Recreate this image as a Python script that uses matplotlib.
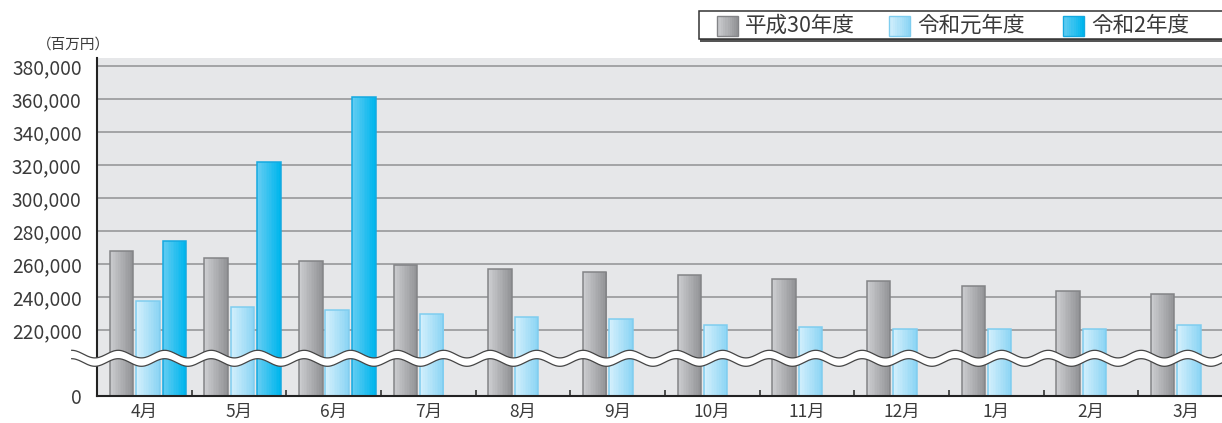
import numpy as np
import matplotlib
matplotlib.use("Agg")
import matplotlib.pyplot as plt
from matplotlib.patches import Rectangle
from matplotlib.transforms import Affine2D
from matplotlib.colors import to_rgb

plt.rcParams['font.family'] = ['Noto Sans CJK JP', 'DejaVu Sans']

# ---- data (百万円) ----
months = ['4月', '5月', '6月', '7月', '8月', '9月', '10月', '11月', '12月', '1月', '2月', '3月']
h30 = [267900, 263800, 261800, 259400, 257000, 255200, 253100, 251100, 249700, 246900, 243400, 241600]
r1 = [237600, 233900, 232100, 229700, 227900, 226500, 223000, 221600, 220400, 220400, 220400, 222800]
r2 = [274000, 321800, 361500]
series_names = ['平成30年度', '令和元年度', '令和2年度']
yticks = [0, 220000, 240000, 260000, 280000, 300000, 320000, 340000, 360000, 380000]

# gradient (left, right) and edge colours
styles = [
    ('#cbcccf', '#939497', '#838487'),
    ('#d2effc', '#8dd5f4', '#7fcdef'),
    ('#62ccf2', '#00b6ed', '#14a9e0'),
]
TXT = '#3a3a3a'

W, H = 1222, 423


# broken axis: 0..200000 squeezed to a tenth, above that linear
def fwd(v):
    v = np.asarray(v, dtype=float)
    return np.where(v <= 200000, v * 0.1, v - 180000)


def inv(d):
    d = np.asarray(d, dtype=float)
    return np.where(d <= 20000, d * 10, d + 180000)


def blend(c1, c2, t):
    a, b = np.array(to_rgb(c1)), np.array(to_rgb(c2))
    return a + (b - a) * t


def gradient_bars(ax, xs, vals, width, style, n=14):
    left, right, edge = style
    xs = np.asarray(xs, dtype=float)
    sw = width / n
    for k in range(n):
        ax.bar(xs - width / 2 + (k + 0.5) * sw, vals, width=sw * 1.08,
               color=blend(left, right, k / (n - 1)), linewidth=0, zorder=2)
    ax.bar(xs, vals, width=width, fill=False, edgecolor=edge, linewidth=1.1, zorder=2.2)


fig = plt.figure(figsize=(W / 100, H / 100), dpi=100)
ax = fig.add_axes([97 / W, 27 / H, 1 - 97 / W, 338 / H])
ax.set_facecolor('#e6e7e9')
ax.set_yscale('function', functions=(fwd, inv))

x = np.arange(len(months))
cat = 94.65
offsets = [-22.8 / cat, 3.5 / cat, 30.2 / cat]
bw = 23.4 / cat

gradient_bars(ax, x + offsets[0], h30, bw, styles[0])
gradient_bars(ax, x + offsets[1], r1, bw, styles[1])
gradient_bars(ax, x[:len(r2)] + offsets[2], r2, bw, styles[2])

ax.set_xlim(-0.5, -0.5 + 1125 / cat)
ax.set_ylim(0, 385000)

ax.set_yticks(yticks)
ax.set_yticklabels([f'{v:,}' for v in yticks], fontsize=13.8, color=TXT)
ax.tick_params(axis='y', length=0, pad=11)
ax.yaxis.grid(True, color='#a3a4a6', linewidth=1.4, zorder=1)
ax.set_axisbelow(True)

ax.set_xticks(x)
ax.set_xticklabels(months, fontsize=12.5, color=TXT)
ax.tick_params(axis='x', which='major', length=0, pad=5)
ax.set_xticks(np.arange(0.5, len(months) - 0.5), minor=True)
ax.tick_params(axis='x', which='minor', direction='in', length=4, width=1.2, color='#333333')

for s in ['top', 'right']:
    ax.spines[s].set_visible(False)
ax.spines['left'].set_linewidth(1.5)
ax.spines['bottom'].set_linewidth(1.5)
ax.spines['left'].set_color('#222222')
ax.spines['bottom'].set_color('#222222')

# pixel transform (origin bottom-left of the figure)
px = Affine2D().scale(1 / W, 1 / H) + fig.transFigure

# wavy break band
wx = np.linspace(71.7, W, 800)
yc = H - 358.3
amp, half = 3.8, 4.2
wave = amp * np.cos(2 * np.pi * (wx - 71.7) / 46.5)
top = yc + half + wave
bot = yc - half + wave
poly = np.column_stack([np.r_[wx, wx[::-1]], np.r_[top, bot[::-1]]])
fig.patches.append(plt.Polygon(poly, closed=True, facecolor='white', edgecolor='none',
                               transform=px, zorder=5))
fig.lines.append(plt.Line2D(wx, top, color='#444444', linewidth=0.9, transform=px, zorder=6))
fig.lines.append(plt.Line2D(wx, bot, color='#444444', linewidth=0.9, transform=px, zorder=6))

# unit label
fig.text(37 / W, 1 - 45 / H, '（百万円）', fontsize=10.5, color=TXT, ha='left', va='center')

# legend drawn by hand: box with shadow reaching past the right edge
lx0, ly_top, ly_bot = 699, 11, 39
fig.patches.append(Rectangle((lx0 + 1, H - ly_bot - 2.5), W, ly_bot - ly_top, transform=px,
                             facecolor='#555555', edgecolor='none', zorder=7))
fig.patches.append(Rectangle((lx0, H - ly_bot), W, ly_bot - ly_top, transform=px,
                             facecolor='white', edgecolor='#333333', linewidth=1.1, zorder=8))
patch_x = [717, 889, 1063]
for px0, name, st in zip(patch_x, series_names, styles):
    n = 10
    for k in range(n):
        fig.patches.append(Rectangle((px0 + k * 21 / n, H - 36), 21 / n + 0.3, 20, transform=px,
                                     facecolor=blend(st[0], st[1], k / (n - 1)),
                                     edgecolor='none', zorder=9))
    fig.patches.append(Rectangle((px0, H - 36), 21, 20, transform=px, fill=False,
                                 edgecolor=st[2], linewidth=1.0, zorder=9))
    fig.text((px0 + 28) / W, 1 - 26 / H, name, fontsize=15.5, color=TXT,
             ha='left', va='center', zorder=10)

fig.savefig('out.png', dpi=100)
